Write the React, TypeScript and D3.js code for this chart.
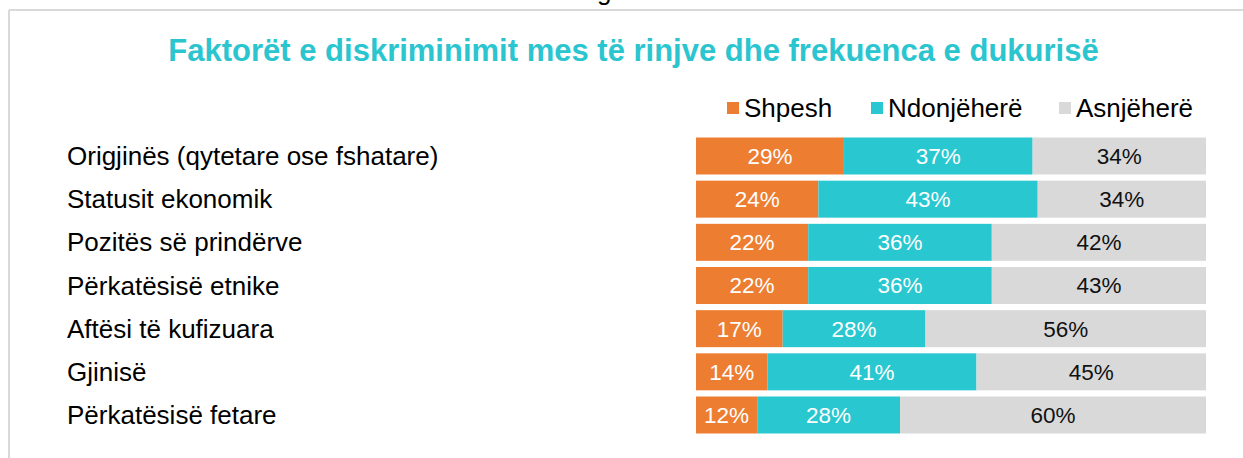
import React from "react";
import * as d3 from "d3";

const categories = [
  "Origjinës (qytetare ose fshatare)",
  "Statusit ekonomik",
  "Pozitës së prindërve",
  "Përkatësisë etnike",
  "Aftësi të kufizuara",
  "Gjinisë",
  "Përkatësisë fetare",
];
const seriesNames = ["Shpesh", "Ndonjëherë", "Asnjëherë"];
const shpesh = [29, 24, 22, 22, 17, 14, 12];
const ndonjehere = [37, 43, 36, 36, 28, 41, 28];
const asnjehere = [34, 34, 42, 43, 56, 45, 60];
const colors = ["#ED7D31", "#29C7D0", "#D9D9D9"];
const labelColors = ["#ffffff", "#ffffff", "#111111"];
const title = "Faktorët e diskriminimit mes të rinjve dhe frekuenca e dukurisë";

const W = 1243;
const H = 458;
const FONT = "'Liberation Sans', Arial, sans-serif";

export default function App() {
  const rows = categories.map((c, i) => ({
    cat: c,
    [seriesNames[0]]: shpesh[i],
    [seriesNames[1]]: ndonjehere[i],
    [seriesNames[2]]: asnjehere[i],
  }));
  const stack = d3.stack<any>().keys(seriesNames);
  const layers = stack(rows as any);

  const x = d3.scaleLinear().domain([0, 100]).range([696, 1206]).clamp(true);
  const y = d3
    .scaleBand<string>()
    .domain(categories)
    .range([137.5, 433.5])
    .paddingInner(0.143)
    .paddingOuter(0);

  const legendX = [727, 871, 1059];

  return (
    <div style={{ position: "absolute", left: 0, top: 0 }}>
      <svg width={W} height={H} style={{ display: "block", background: "#fff" }}>
        <text x={597} y={0} fontFamily={FONT} fontSize={26} fill="#000">
          g
        </text>
        <line x1={9} y1={10} x2={W} y2={10} stroke="#D9D9D9" strokeWidth={2} />
        <line x1={9} y1={10} x2={9} y2={H} stroke="#D9D9D9" strokeWidth={2} />

        <text
          x={633.5}
          y={61}
          textAnchor="middle"
          fontFamily={FONT}
          fontWeight="bold"
          fontSize={31}
          fill="#2BC5CF"
        >
          {title}
        </text>

        {seriesNames.map((s, i) => (
          <g key={s}>
            <rect x={legendX[i]} y={102} width={12} height={12} fill={colors[i]} />
            <text x={legendX[i] + 17} y={117} fontFamily={FONT} fontSize={26} fill="#000">
              {s}
            </text>
          </g>
        ))}

        {categories.map((c) => (
          <text
            key={c}
            x={67}
            y={(y(c) as number) + y.bandwidth() / 2}
            dy="0.35em"
            fontFamily={FONT}
            fontSize={26}
            fill="#000"
          >
            {c}
          </text>
        ))}

        {layers.map((layer, li) => (
          <g key={layer.key}>
            {layer.map((d: any, i: number) => {
              const cat = categories[i];
              const x0 = x(d[0]);
              const x1 = li === layers.length - 1 ? x(100) : x(d[1]);
              const yy = y(cat) as number;
              const val = d[1] - d[0];
              return (
                <g key={cat}>
                  <rect
                    x={x0}
                    y={yy}
                    width={Math.max(0, x1 - x0)}
                    height={y.bandwidth()}
                    fill={colors[li]}
                  />
                  <text
                    x={(x0 + x1) / 2}
                    y={yy + y.bandwidth() / 2}
                    dy="0.35em"
                    textAnchor="middle"
                    fontFamily={FONT}
                    fontSize={22.5}
                    fill={labelColors[li]}
                  >
                    {`${val}%`}
                  </text>
                </g>
              );
            })}
          </g>
        ))}
      </svg>
    </div>
  );
}
